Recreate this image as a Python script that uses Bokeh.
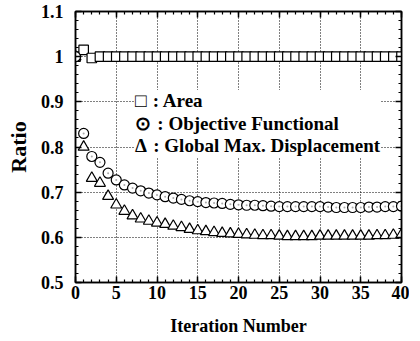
from bokeh.plotting import figure
from bokeh.models import (FixedTicker, LinearAxis, Legend, LegendItem, Range1d,
                          ColumnDataSource)
from bokeh.embed import file_html
from bokeh.resources import INLINE

iterations = list(range(0, 41))
area = [1.0, 1.015, 0.997] + [1.0] * 38
objective = [1.0, 0.830, 0.779, 0.766, 0.742, 0.727, 0.716, 0.709, 0.703, 0.698,
             0.694, 0.690, 0.687, 0.684, 0.681, 0.679, 0.677, 0.676, 0.675, 0.673,
             0.672, 0.671, 0.671, 0.670, 0.669, 0.668, 0.668, 0.668, 0.668, 0.668,
             0.668, 0.667, 0.666, 0.666, 0.666, 0.666, 0.667, 0.667, 0.668, 0.668,
             0.669]
displacement = [1.0, 0.800, 0.731, 0.720, 0.691, 0.672, 0.658, 0.648, 0.641, 0.636,
                0.632, 0.629, 0.625, 0.622, 0.618, 0.615, 0.613, 0.611, 0.609, 0.608,
                0.607, 0.606, 0.605, 0.604, 0.604, 0.603, 0.602, 0.602, 0.602, 0.602,
                0.603, 0.603, 0.603, 0.603, 0.603, 0.603, 0.603, 0.604, 0.604, 0.605,
                0.606]
legend_labels = ["\u25a1\u2004: Area", "\u2299\u2004: Objective Functional",
                 "\u0394\u2004: Global Max. Displacement"]
x_ticks = [0, 5, 10, 15, 20, 25, 30, 35, 40]
y_ticks = [0.5, 0.6, 0.7, 0.8, 0.9, 1.0, 1.1]
y_tick_labels = ["0.5", "0.6", "0.7", "0.8", "0.9", "1", "1.1"]
x_minor = list(range(0, 41))
y_minor = [round(0.5 + 0.02 * i, 2) for i in range(31)]

FONT = "Liberation Serif"

p = figure(width=409, height=338, output_backend="svg", toolbar_location=None,
           x_range=Range1d(0, 40), y_range=Range1d(0.5, 1.1),
           min_border_left=75, min_border_right=8, min_border_top=11,
           min_border_bottom=56, x_axis_label="Iteration Number",
           y_axis_label="Ratio")
p.background_fill_color = "white"
p.border_fill_color = "white"
p.outline_line_color = "black"
p.outline_line_width = 1.5

src = ColumnDataSource(dict(x=iterations, a=area, o=objective, d=displacement))

sq = p.scatter("x", "a", source=src, marker="square", size=9.5,
               fill_color="white", line_color="black", line_width=1.2)
tr = p.scatter("x", "d", source=src, marker="triangle", size=11,
               fill_color="white", line_color="black", line_width=1.2)
ci = p.scatter("x", "o", source=src, marker="circle", size=10,
               fill_color="white", line_color="black", line_width=1.2)
ci_dot = p.scatter("x", "o", source=src, marker="circle", size=2,
                   fill_color="#aaaaaa", line_color=None)

def style_axis(ax, show_labels=True):
    ax.axis_line_color = "black"
    ax.axis_line_width = 1.5
    ax.major_tick_in = 6
    ax.major_tick_out = 0
    ax.minor_tick_in = 3
    ax.minor_tick_out = 0
    ax.major_tick_line_width = 1.5
    ax.minor_tick_line_width = 1.2
    ax.major_label_text_font = FONT
    ax.major_label_text_font_style = "bold"
    ax.major_label_text_font_size = "18px" if show_labels else "0px"
    ax.major_label_text_color = "black"
    ax.axis_label_text_font = FONT
    ax.axis_label_text_font_style = "bold"
    ax.axis_label_text_font_size = "18px"
    ax.axis_label_text_color = "black"

xt = FixedTicker(ticks=x_ticks, minor_ticks=x_minor)
yt = FixedTicker(ticks=y_ticks, minor_ticks=y_minor)

p.xaxis.ticker = xt
p.yaxis.ticker = yt
p.yaxis.major_label_overrides = {t: l for t, l in zip(y_ticks, y_tick_labels)}
for ax in p.xaxis:
    style_axis(ax)
    ax.major_label_standoff = 3
    ax.axis_label_standoff = 14
for ax in p.yaxis:
    style_axis(ax)
    ax.major_label_standoff = 12
    ax.axis_label_standoff = 7
    ax.axis_label_text_font_size = "22px"

top = LinearAxis(ticker=xt, major_label_overrides={t: "" for t in x_ticks})
style_axis(top, False)
right = LinearAxis(ticker=yt, major_label_overrides={t: "" for t in y_ticks})
style_axis(right, False)
p.add_layout(top, "above")
p.add_layout(right, "right")

p.xgrid.ticker = FixedTicker(ticks=x_ticks[1:-1])
p.ygrid.ticker = FixedTicker(ticks=y_ticks[1:-1])
for g in (p.xgrid, p.ygrid):
    g.grid_line_color = "black"
    g.grid_line_dash = "1 2"
    g.grid_line_width = 1

legend = Legend(items=[LegendItem(label=legend_labels[0], renderers=[sq]),
                       LegendItem(label=legend_labels[1], renderers=[ci]),
                       LegendItem(label=legend_labels[2], renderers=[tr])],
                location=(60, 125))
legend.background_fill_color = "white"
legend.background_fill_alpha = 1
legend.border_line_color = None
legend.padding = 1
legend.spacing = 0
legend.margin = 0
legend.glyph_width = 0
legend.glyph_height = 16
legend.label_height = 16
legend.label_standoff = 0
legend.label_text_font = FONT
legend.label_text_font_style = "bold"
legend.label_text_font_size = "19px"
legend.label_text_color = "black"
p.add_layout(legend, "center")

open("out.html", "w").write(file_html(p, INLINE))
